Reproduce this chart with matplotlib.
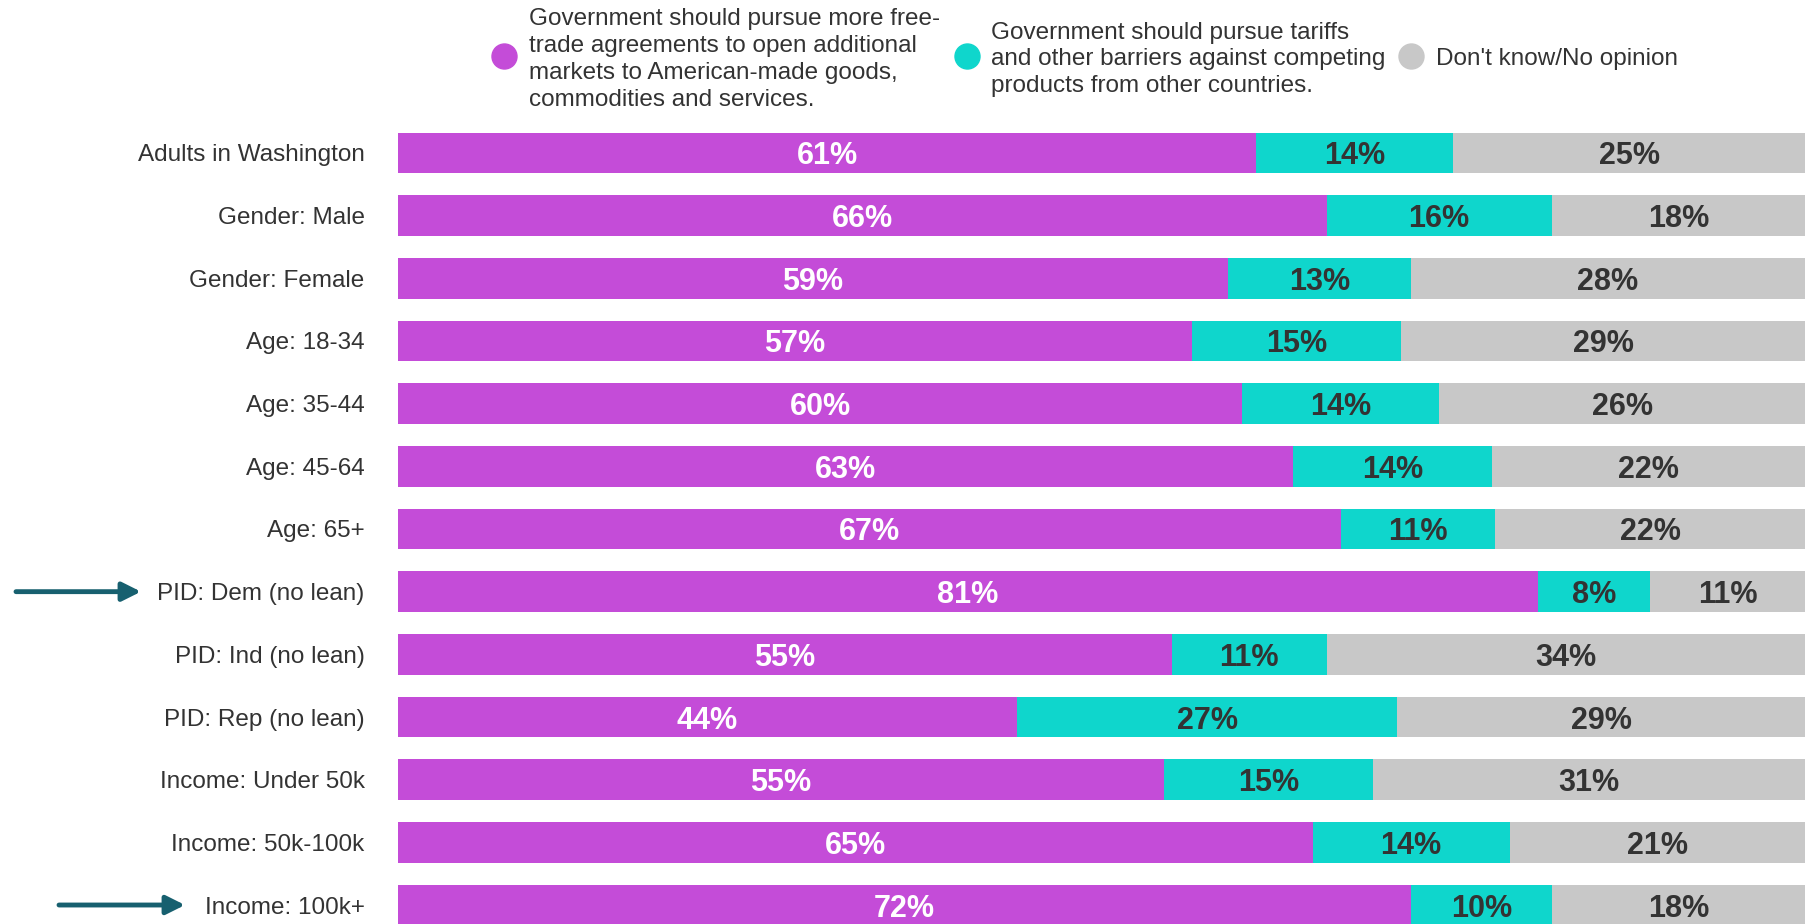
import numpy as np
import matplotlib
matplotlib.use("Agg")
import matplotlib.pyplot as plt
from matplotlib.lines import Line2D
from matplotlib.transforms import blended_transform_factory

plt.rcParams['font.family'] = ['Liberation Sans', 'DejaVu Sans']

categories = ["Adults in Washington", "Gender: Male", "Gender: Female", "Age: 18-34",
              "Age: 35-44", "Age: 45-64", "Age: 65+", "PID: Dem (no lean)",
              "PID: Ind (no lean)", "PID: Rep (no lean)", "Income: Under 50k",
              "Income: 50k-100k", "Income: 100k+"]
free_trade = [61, 66, 59, 57, 60, 63, 67, 81, 55, 44, 55, 65, 72]
tariffs = [14, 16, 13, 15, 14, 14, 11, 8, 11, 27, 15, 14, 10]
dont_know = [25, 18, 28, 29, 26, 22, 22, 11, 34, 29, 31, 21, 18]
highlighted = ["PID: Dem (no lean)", "Income: 100k+"]

series_names = [
    "Government should pursue more free-\ntrade agreements to open additional\nmarkets to American-made goods,\ncommodities and services.",
    "Government should pursue tariffs\nand other barriers against competing\nproducts from other countries.",
    "Don't know/No opinion",
]
colors = ["#C44CD8", "#0FD6CC", "#C8C8C8"]
text_colors = ["white", "#333333", "#333333"]

W, H = 1814, 924
fig = plt.figure(figsize=(W / 100, H / 100), dpi=100)
ax = fig.add_axes([398 / W, 0, 1407 / W, 1])

vals = np.array([free_trade, tariffs, dont_know], dtype=float)
shares = vals / vals.sum(axis=0) * 100  # rounded figures don't always add to 100
y = np.arange(len(categories))
left = np.zeros(len(categories))
for k in range(3):
    ax.barh(y, shares[k], left=left, height=0.648, color=colors[k], linewidth=0)
    for i in range(len(categories)):
        ax.text(left[i] + shares[k][i] / 2, y[i], f"{int(vals[k][i])}%",
                ha='center', va='center_baseline', fontsize=22, fontweight='bold',
                color=text_colors[k])
    left += shares[k]

ax.set_xlim(0, 100)
ax.set_ylim(12.303, -2.441)
ax.set_yticks(y)
ax.set_yticklabels(categories, fontsize=17.5, color='#333333')
ax.tick_params(axis='y', length=0, pad=24)
ax.set_xticks([])
for s in ax.spines.values():
    s.set_visible(False)

# arrows pointing at the highlighted groups
tr = blended_transform_factory(fig.transFigure, ax.transData)
arrow_x = {"PID: Dem (no lean)": (16, 141), "Income: 100k+": (59, 185)}
for name in highlighted:
    x0, x1 = arrow_x[name]
    yi = categories.index(name)
    ax.annotate("", xy=(x1 / W, yi), xytext=(x0 / W, yi), xycoords=tr, textcoords=tr,
                arrowprops=dict(arrowstyle="-|>", color="#17606F", lw=3.5,
                                mutation_scale=28, shrinkA=0, shrinkB=0),
                annotation_clip=False)

# legend across the top
marker_x = [504, 967, 1411]
text_x = [529, 991, 1436]
ly = 1 - 56 / H
ty = 1 - 59.5 / H
for k in range(3):
    fig.add_artist(Line2D([marker_x[k] / W], [ly], marker='o', markersize=18,
                          color=colors[k], linestyle='none', transform=fig.transFigure))
    fig.text(text_x[k] / W, ty, series_names[k], ha='left', va='center',
             fontsize=17.5, color='#333333', linespacing=1.28)

fig.savefig("out.png", dpi=100)
